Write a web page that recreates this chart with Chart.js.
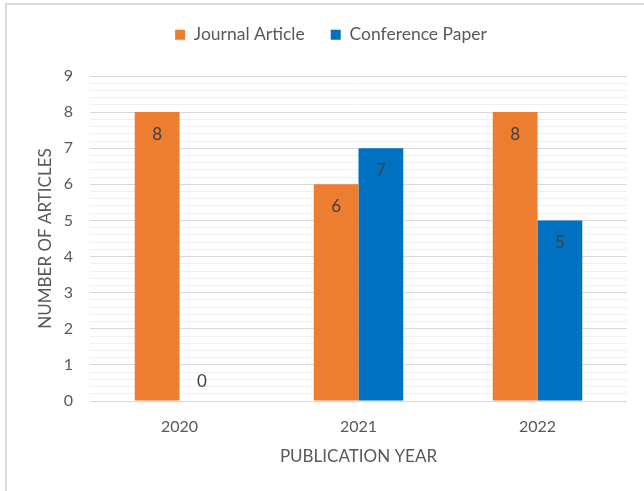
<!DOCTYPE html>
<html><head><meta charset="utf-8">
<script src="https://cdn.jsdelivr.net/npm/chart.js@4/dist/chart.umd.min.js"></script>
<style>
html,body{margin:0;padding:0;background:#fff;}
#wrap{position:absolute;left:0;top:0;width:644px;height:491px;overflow:hidden;}
#frame{position:absolute;left:5px;top:3px;width:650px;height:500px;border-top:2px solid #d9d9d9;border-left:2px solid #d9d9d9;}
canvas{position:absolute;left:0;top:0;}
</style></head>
<body>
<div id="wrap"><div id="frame"></div><canvas id="c" width="644" height="491"></canvas></div>
<script>
const categories = ['2020', '2021', '2022'];
const journalArticles = [8, 6, 8];
const conferencePapers = [0, 7, 5];
const seriesNames = ['Journal Article', 'Conference Paper'];
const yMin = 0, yMax = 9, yMinorStep = 0.2;
const xTitle = 'PUBLICATION YEAR';
const yTitle = 'NUMBER OF ARTICLES';

const FONT = 'Lato, "Open Sans", sans-serif';
const TXT = '#595959';

const legendHeightPlugin = {
  id: 'legendHeight',
  afterInit(chart) {
    const lg = chart.legend;
    if (!lg) return;
    const orig = lg.fit.bind(lg);
    lg.fit = function () { orig(); this.height = 76; };
  }
};

const labelPlugin = {
  id: 'barLabels',
  afterDatasetsDraw(chart) {
    const ctx = chart.ctx;
    ctx.save();
    ctx.font = '17px ' + FONT;
    ctx.fillStyle = '#404040';
    ctx.textAlign = 'center';
    ctx.textBaseline = 'middle';
    chart.data.datasets.forEach((ds, i) => {
      const meta = chart.getDatasetMeta(i);
      meta.data.forEach((el, j) => {
        const v = ds.data[j];
        const y = v > 0 ? el.y + 22 : el.base - 19;
        ctx.fillText(String(v), el.x, y);
      });
    });
    ctx.restore();
  }
};

new Chart(document.getElementById('c'), {
  type: 'bar',
  data: {
    labels: categories,
    datasets: [
      { label: seriesNames[0], data: journalArticles, backgroundColor: '#ED7D31' },
      { label: seriesNames[1], data: conferencePapers, backgroundColor: '#0070C0' }
    ]
  },
  options: {
    responsive: false,
    animation: false,
    devicePixelRatio: 1,
    layout: { padding: { left: 35, right: 17, top: 0, bottom: 24 } },
    datasets: { bar: { categoryPercentage: 0.5, barPercentage: 1.0 } },
    plugins: {
      legend: {
        position: 'top',
        labels: { font: { family: FONT, size: 17.5 }, color: TXT, boxWidth: 10, boxHeight: 10, padding: 26 }
      },
      tooltip: { enabled: false }
    },
    scales: {
      x: {
        grid: { display: false, drawTicks: false },
        border: { display: false },
        ticks: { font: { family: FONT, size: 16 }, color: TXT, padding: 16 },
        title: { display: true, text: xTitle, font: { family: FONT, size: 17 }, color: TXT, padding: { top: 0, bottom: 0 } },
        afterFit(s) { s.height = 66; }
      },
      y: {
        min: yMin, max: yMax,
        grid: {
          drawTicks: false,
          color(c) { const v = c.tick.value; return Math.abs(v - Math.round(v)) < 1e-6 ? '#d9d9d9' : '#f0f0f0'; },
          lineWidth: 1
        },
        border: { display: false },
        ticks: {
          stepSize: yMinorStep, autoSkip: false,
          font: { family: FONT, size: 16 }, color: TXT, padding: 17,
          callback(v) { return Math.abs(v - Math.round(v)) < 1e-6 ? String(Math.round(v)) : ''; }
        },
        title: { display: true, text: yTitle, font: { family: FONT, size: 17 }, color: TXT, padding: { top: 0, bottom: 0 } },
        afterFit(s) { s.width = 55; }
      }
    }
  },
  plugins: [legendHeightPlugin, labelPlugin]
});
</script>
</body></html>
